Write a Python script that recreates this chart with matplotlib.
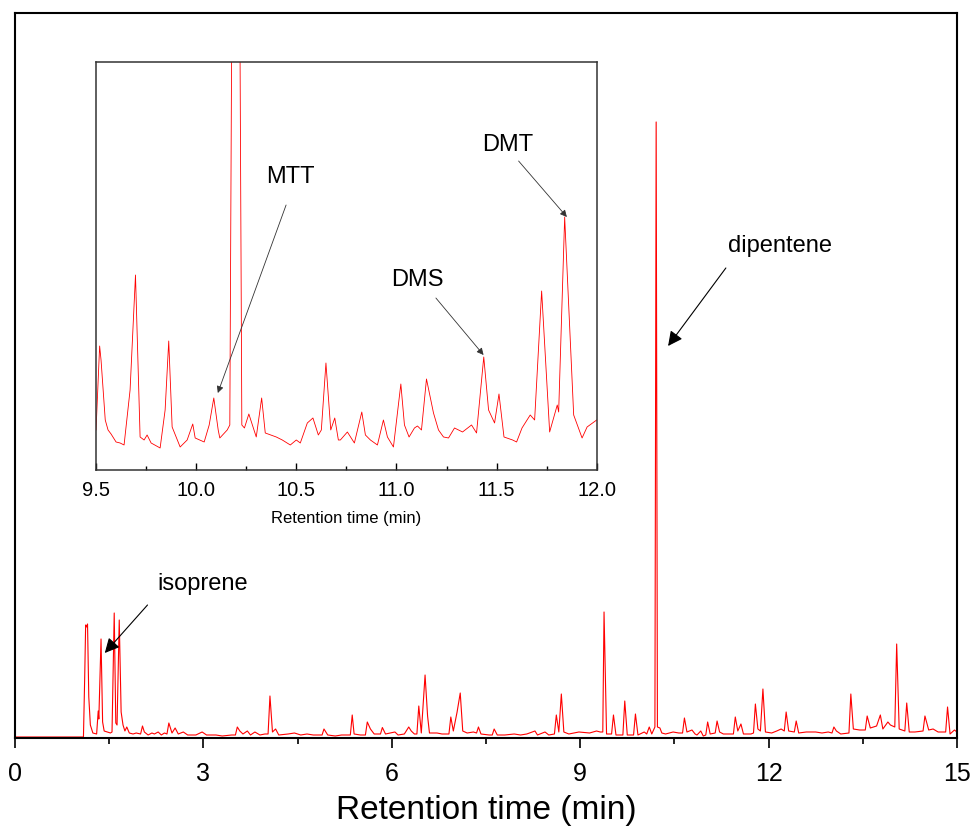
import matplotlib
matplotlib.use("Agg")
import matplotlib.pyplot as plt
from matplotlib.ticker import MultipleLocator, FormatStrFormatter

plt.rcParams["font.family"] = ["Liberation Sans", "DejaVu Sans"]

# full chromatogram: retention time (min) and detector signal (a.u.)
time_min = [
    0.00, 1.09, 1.11, 1.125, 1.14, 1.155, 1.175, 1.20, 1.24, 1.30,
    1.325, 1.335, 1.37, 1.395, 1.42, 1.47, 1.52, 1.545, 1.58, 1.605,
    1.625, 1.66, 1.69, 1.72, 1.75, 1.78, 1.82, 1.88, 1.93, 2.00,
    2.03, 2.06, 2.12, 2.18, 2.22, 2.28, 2.33, 2.38, 2.42, 2.45,
    2.50, 2.55, 2.60, 2.68, 2.75, 2.88, 2.98, 3.05, 3.20, 3.30,
    3.45, 3.51, 3.54, 3.58, 3.63, 3.70, 3.75, 3.82, 3.90, 3.98,
    4.03, 4.06, 4.10, 4.15, 4.20, 4.35, 4.45, 4.55, 4.65, 4.75,
    4.89, 4.92, 4.98, 5.10, 5.20, 5.30, 5.34, 5.37, 5.40, 5.50,
    5.58, 5.61, 5.66, 5.72, 5.82, 5.85, 5.90, 6.05, 6.10, 6.20,
    6.27, 6.31, 6.36, 6.40, 6.43, 6.47, 6.53, 6.57, 6.60, 6.72,
    6.80, 6.91, 6.94, 6.98, 7.04, 7.09, 7.13, 7.20, 7.30, 7.35,
    7.38, 7.42, 7.55, 7.60, 7.63, 7.68, 7.80, 7.95, 8.05, 8.15,
    8.28, 8.32, 8.44, 8.50, 8.59, 8.62, 8.66, 8.70, 8.74, 8.82,
    8.90, 8.98, 9.15, 9.26, 9.32, 9.36, 9.38, 9.42, 9.50, 9.53,
    9.57, 9.68, 9.71, 9.75, 9.85, 9.88, 9.92, 10.02, 10.06, 10.10,
    10.14, 10.19, 10.21, 10.23, 10.27, 10.30, 10.36, 10.48, 10.57, 10.63,
    10.66, 10.70, 10.78, 10.83, 10.86, 10.92, 10.96, 11.00, 11.03, 11.07,
    11.15, 11.18, 11.22, 11.28, 11.37, 11.44, 11.47, 11.51, 11.56, 11.60,
    11.72, 11.76, 11.79, 11.83, 11.87, 11.91, 11.95, 12.05, 12.13, 12.20,
    12.25, 12.28, 12.32, 12.41, 12.44, 12.48, 12.60, 12.75, 12.85, 12.95,
    13.01, 13.04, 13.08, 13.15, 13.28, 13.31, 13.35, 13.45, 13.54, 13.57,
    13.62, 13.72, 13.78, 13.82, 13.90, 13.94, 14.01, 14.04, 14.08, 14.17,
    14.20, 14.24, 14.33, 14.46, 14.49, 14.55, 14.62, 14.70, 14.82, 14.85,
    14.89, 14.96, 15.00,
]
signal = [
    0, 0, 60, 112, 110, 113, 40, 12, 4, 3,
    26, 18, 98, 15, 6, 5, 4, 5, 124, 14,
    12, 117, 25, 12, 6, 10, 4, 3, 4, 3,
    11, 5, 2, 4, 3, 5, 2, 4, 3, 14,
    4, 9, 3, 5, 2, 2, 5, 2, 2, 1,
    2, 2, 10, 6, 3, 6, 2, 5, 2, 3,
    3, 41, 5, 8, 2, 3, 4, 2, 3, 2,
    2, 8, 2, 1, 2, 2, 2, 22, 3, 2,
    2, 15, 8, 3, 3, 9.5, 3, 5, 2, 3,
    10, 6, 3, 3, 31, 4, 62, 21, 4, 4,
    3, 3, 20, 6, 25, 44, 6, 4, 5, 4,
    10, 3, 2, 2, 8, 2, 2, 3, 2, 3,
    6, 2, 5, 2, 3, 22, 5, 43, 5, 3,
    4, 5, 4, 6, 5, 5, 125, 3, 3, 22,
    2, 2, 36, 2, 2, 23, 2, 5, 3, 10,
    3, 10, 615, 10, 9, 4, 3, 5, 4, 4,
    19, 5, 7, 3, 2, 6, 1, 2, 15, 3,
    4, 16, 5, 3, 3, 3, 20, 6, 13, 3,
    3, 4, 33, 8, 6, 48, 5, 4, 6, 8,
    6, 25, 6, 5, 16, 4, 5, 5, 4, 5,
    4, 10, 6, 3, 4, 43, 8, 7, 7, 21,
    9, 11, 22, 8, 15, 12, 10, 93, 8, 6,
    34, 5, 5, 6, 21, 7, 8, 5, 5, 30,
    3, 7, 5,
]

# enlarged window 9.5-12.0 min
inset_time = [
    9.50, 9.518, 9.525, 9.546, 9.56, 9.575, 9.60, 9.62, 9.64, 9.67, 9.697, 9.72,
    9.74, 9.755, 9.775, 9.82, 9.845, 9.863, 9.88, 9.92, 9.955, 9.983, 9.995,
    10.04, 10.065, 10.088, 10.11, 10.118, 10.155, 10.168, 10.198, 10.228, 10.241,
    10.263, 10.30, 10.327, 10.345, 10.40, 10.43, 10.47, 10.50, 10.52, 10.555,
    10.583, 10.61, 10.625, 10.648, 10.672, 10.692, 10.71, 10.72, 10.755, 10.79,
    10.827, 10.845, 10.87, 10.905, 10.935, 10.955, 10.985, 11.022, 11.04, 11.063,
    11.09, 11.105, 11.125, 11.15, 11.185, 11.21, 11.235, 11.26, 11.29, 11.33,
    11.375, 11.40, 11.436, 11.46, 11.49, 11.512, 11.537, 11.58, 11.60, 11.627,
    11.668, 11.69, 11.725, 11.765, 11.803, 11.81, 11.84, 11.885, 11.927, 11.952,
    12.00,
]
inset_signal = [
    40, 124, 110, 50, 40, 36, 28, 27, 25, 80, 195, 33,
    30, 35, 27, 22, 60, 129, 43, 23, 30, 46, 32,
    28, 45, 72, 40, 32, 40, 45, 1300, 45, 42,
    56, 33, 72, 37, 33, 30, 25, 30, 27, 47,
    52, 35, 40, 107, 40, 52, 30, 30, 38, 27,
    58, 35, 30, 25, 50, 33, 23, 86, 45, 33,
    42, 44, 40, 91, 57, 40, 33, 32, 42, 38,
    45, 37, 113, 60, 47, 76, 33, 30, 28, 42,
    55, 50, 179, 38, 65, 58, 253, 55, 32, 43,
    50,
]

fig = plt.figure(figsize=(9.72, 8.27), dpi=100)
ax = fig.add_axes([0.01543, 0.10762, 0.9691, 0.8767])
ax.plot(time_min, signal, color="#ff0000", lw=0.8)
ax.set_xlim(0, 15)
ax.set_ylim(-1, 724)
ax.xaxis.set_major_locator(MultipleLocator(3))
ax.xaxis.set_minor_locator(MultipleLocator(1.5))
ax.set_yticks([])
ax.tick_params(axis="x", which="major", direction="out", length=7, width=1.2,
               labelsize=18, pad=10)
ax.tick_params(axis="x", which="minor", direction="out", length=4, width=1.2)
for s in ax.spines.values():
    s.set_linewidth(1.5)
ax.set_xlabel("Retention time (min)", fontsize=24, labelpad=7)

big_arrow = dict(arrowstyle="-|>", color="black", lw=0.8, mutation_scale=22,
                 shrinkA=0, shrinkB=0)
ax.text(2.99, 153, "isoprene", fontsize=17, ha="center", va="center")
ax.annotate("", xy=(1.43, 84), xytext=(2.11, 132), arrowprops=big_arrow)
ax.text(12.18, 491, "dipentene", fontsize=17, ha="center", va="center")
ax.annotate("", xy=(10.40, 391), xytext=(11.32, 469), arrowprops=big_arrow)

ins = fig.add_axes([0.0988, 0.4317, 0.5151, 0.4933])
ins.plot(inset_time, inset_signal, color="#ff0000", lw=0.6)
ins.set_xlim(9.5, 12.0)
ins.set_ylim(0, 408)
ins.xaxis.set_major_locator(MultipleLocator(0.5))
ins.xaxis.set_minor_locator(MultipleLocator(0.25))
ins.xaxis.set_major_formatter(FormatStrFormatter("%.1f"))
ins.set_yticks([])
ins.tick_params(axis="x", which="major", direction="in", length=5, width=1,
                labelsize=14.5, pad=8)
ins.tick_params(axis="x", which="minor", direction="in", length=3, width=1)
for s in ins.spines.values():
    s.set_linewidth(1.1)
    s.set_color("#333333")
ins.set_xlabel("Retention time (min)", fontsize=12, labelpad=8)

small_arrow = dict(arrowstyle="-|>", color="#333333", lw=0.6, mutation_scale=10,
                   shrinkA=0, shrinkB=0)
ins.text(10.47, 293, "MTT", fontsize=17, ha="center", va="center")
ins.annotate("", xy=(10.108, 77), xytext=(10.449, 265), arrowprops=small_arrow)
ins.text(11.106, 190, "DMS", fontsize=17, ha="center", va="center")
ins.annotate("", xy=(11.435, 115), xytext=(11.197, 172), arrowprops=small_arrow)
ins.text(11.553, 325, "DMT", fontsize=17, ha="center", va="center")
ins.annotate("", xy=(11.851, 253), xytext=(11.61, 309), arrowprops=small_arrow)

fig.savefig("out.png", dpi=100)
